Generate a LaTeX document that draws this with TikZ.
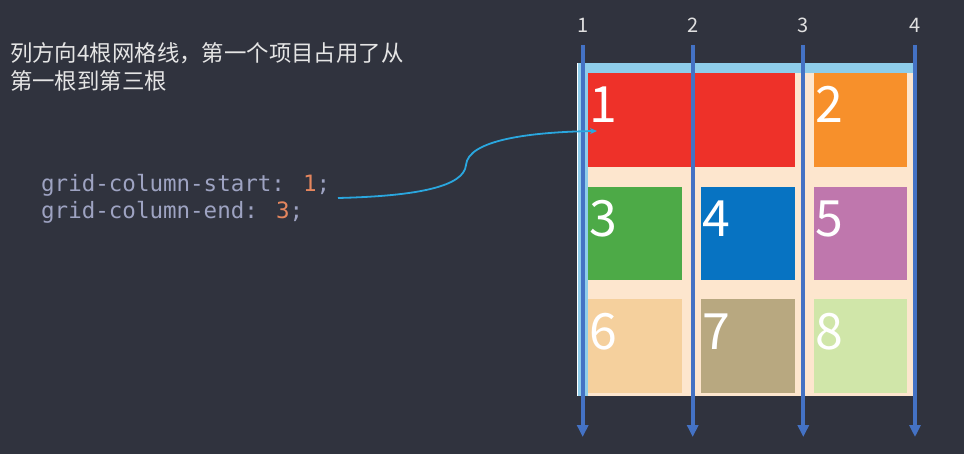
\documentclass[tikz,border=0pt]{standalone}
\usepackage{fontspec}
\newfontfamily\cjk{Noto Sans CJK SC}
\newfontfamily\codefont{DejaVu Sans Mono}
\usetikzlibrary{arrows.meta}
\definecolor{bgdark}{HTML}{30333E}
\definecolor{lineblue}{HTML}{4472C4}
\definecolor{boxblue}{HTML}{8ECDEA}
\definecolor{boxpeach}{HTML}{FDE6CE}
\definecolor{codegrey}{HTML}{9EA3C2}
\definecolor{codenum}{HTML}{E5865E}
\definecolor{pointcyan}{HTML}{2AA7DF}
\definecolor{item1}{HTML}{EE3129}
\definecolor{item2}{HTML}{F7902B}
\definecolor{item3}{HTML}{4DAA47}
\definecolor{item4}{HTML}{0773C2}
\definecolor{item5}{HTML}{BF77AD}
\definecolor{item6}{HTML}{F5D09D}
\definecolor{item7}{HTML}{B8A880}
\definecolor{item8}{HTML}{D0E6A9}
\tikzset{%
  gridline/.style={line width=4pt, draw=lineblue, -{Triangle[length=12pt,width=11pt]}},
  linenum/.style={anchor=base, inner sep=0pt, text=white!88!black, font=\cjk\fontsize{20}{20}\selectfont},
  cellbox/.style={anchor=north west, inner sep=0pt, outer sep=0pt},
  cellnum/.style={anchor=base west, inner sep=0pt, text=white, font=\cjk\fontsize{50}{50}\selectfont},
  codeline/.style={anchor=base west, inner sep=0pt, text=codegrey, font=\codefont\fontsize{22.5}{22.5}\selectfont}
}

\begin{document}
\begin{tikzpicture}[x=1pt, y=-1pt]
  \fill [bgdark] (0,0) rectangle (964,454);
  \useasboundingbox (0,0) rectangle (964,454);

% 说明文字
\node (note1) [anchor=base west, inner sep=0pt, text=white!90!black, font=\cjk\fontsize{22.4}{22.4}\selectfont] at (10,62) {列方向4根网格线，第一个项目占用了从};
\node (note2) [anchor=base west, inner sep=0pt, text=white!90!black, font=\cjk\fontsize{22.4}{22.4}\selectfont] at (10,90) {第一根到第三根};

% 代码
\node (code1) [codeline] at (41,192) {grid-column-start: \textcolor{codenum}{1};};
\node (code2) [codeline] at (41,219) {grid-column-end: \textcolor{codenum}{3};};

% 容器
\fill [boxblue] (578,63) rectangle (913,396);
\fill [boxpeach] (588,73) rectangle (913,396);
\draw [white, line width=1.5pt] (577.5,63) -- (577.5,396);

% 项目
\foreach \n/\x/\y/\w/\h in {1/588/73/207/94, 2/814/73/93/94,
                            3/588/187/94/93, 4/701/187/94/93, 5/814/187/93/93,
                            6/588/299/94/94, 7/701/299/94/94, 8/814/299/93/94} {
  \node (C\n) [cellbox, fill=item\n, minimum width=\w pt, minimum height=\h pt] at (\x,\y) {};
  \node (N\n) [cellnum] at ([shift={(1,50)}]C\n.north west) {\n};
}

% 网格线
\foreach \i/\x in {1/582.7, 2/692.7, 3/803.3, 4/915} {
  \coordinate (T\i) at (\x, 45);
  \coordinate (B\i) at (\x, 437);
  \node (L\i) [linenum] at (\x, 33) {\i};
  \draw [gridline] (T\i) -- (B\i);
}

% 指向第一个项目
\coordinate (from) at (338,198);
\coordinate (bend) at (466,165);
\coordinate (pointer) at (597,131);
\draw [pointcyan, line width=1.8pt, -{Stealth[length=7pt,width=6pt]}]
  (from) .. controls (420,196) and (464,186) .. (bend)
         .. controls (468,140) and (530,132) .. (pointer);
\end{tikzpicture}
\end{document}
